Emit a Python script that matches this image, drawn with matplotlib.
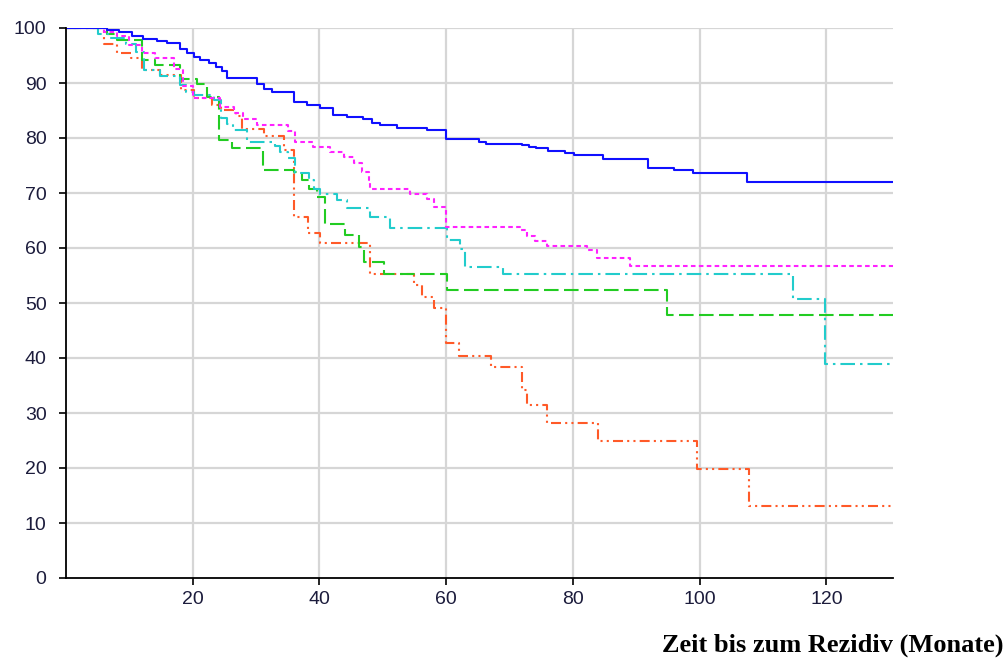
import numpy as np
import matplotlib
matplotlib.use("Agg")
from matplotlib import pyplot as plt

# time (months) / percent recurrence-free, step changes only
t_blue = [0, 6.5, 8.3, 10.4, 12.2, 14.4, 16, 18, 19.1, 20.2, 21.2, 22.5, 23.6, 24.6, 25.4,
          30.2, 31.2, 32.5, 35.9, 38, 40.1, 42.2, 44.3, 46.9, 48.3, 49.6, 52.2, 57, 60,
          65.1, 66.2, 72, 73, 74.1, 76.1, 78.8, 80.1, 84.8, 91.9, 95.9, 99, 107.5, 130.5]
s_blue = [100, 99.6, 99.2, 98.5, 98, 97.7, 97.2, 96.1, 95.4, 94.7, 94.2, 93.7, 93, 92.1, 91,
          89.9, 89, 88.4, 86.6, 86, 85.5, 84.2, 83.8, 83.4, 82.8, 82.4, 81.9, 81.4, 79.8,
          79.3, 79.0, 78.7, 78.4, 78.1, 77.7, 77.2, 76.9, 76.1, 74.5, 74.2, 73.6, 72.0, 72.0]

t_magenta = [0, 6, 8, 10, 12, 14, 17, 18.5, 20, 24.3, 26.5, 28, 30.2, 35.1, 36.2, 39, 41.7,
             43.8, 45.4, 46.7, 47.8, 48, 54.3, 57, 58, 60, 71.7, 72.7, 74, 75.9, 82.2, 83.8,
             89, 130.5]
s_magenta = [100, 99.3, 98.6, 97, 95.5, 94.5, 92.5, 89.5, 87.2, 85.6, 84.5, 83.4, 82.4, 81.2,
             79.3, 78.4, 77.5, 76.6, 75.4, 73.9, 72.4, 70.8, 69.9, 69.0, 67.5, 63.9, 63.3,
             62.2, 61.2, 60.4, 59.6, 58.2, 56.8, 56.8]

t_cyan = [0, 5, 7, 9.4, 11, 12.3, 14.9, 18, 19, 20.2, 23.3, 24.4, 25.4, 26.4, 28.6, 33, 33.8,
          35.1, 36.2, 38.3, 39.1, 40.1, 42.8, 44.4, 48, 51.2, 60.1, 62.2, 63, 68.9, 114.7,
          119.8, 130.5]
s_cyan = [100, 99, 98.1, 97.1, 95.7, 92.4, 91.2, 89.6, 88.4, 87.8, 86.9, 83.6, 82.5, 81.5,
          79.3, 78.5, 77.5, 76.3, 73.6, 72.4, 70.8, 69.9, 68.7, 67.2, 65.7, 63.6, 61.5, 59.9,
          56.6, 55.2, 50.7, 39.0, 39.0]

t_green = [0, 6.5, 8.1, 12, 14.1, 18, 20.7, 22.3, 24.1, 26.2, 31.1, 35.9, 37.2, 38.3, 39.6,
           40.9, 44.1, 46.2, 47.1, 50.2, 60.1, 94.9, 130.5]
s_green = [100, 99.0, 97.8, 94.2, 93.3, 90.7, 89.8, 87.5, 79.6, 78.1, 74.2, 73.9, 72.4, 70.8,
           69.3, 64.3, 62.4, 60.2, 57.5, 55.3, 52.4, 47.8, 47.8]

t_orange = [0, 6, 8.1, 10.2, 12, 14.9, 18.1, 20.2, 23.1, 24.4, 26.8, 27.8, 31.2, 34.4, 35.9,
            38.2, 40.1, 48, 54.9, 56.2, 58, 60, 62, 67, 72, 72.7, 75.9, 84, 99.6, 107.7, 130.5]
s_orange = [100, 97.1, 95.4, 94.5, 92.4, 91.5, 88.7, 87.2, 86.0, 85.1, 84.0, 81.6, 80.4, 77.8,
            65.6, 62.7, 61.0, 55.3, 53.3, 51.1, 49.1, 42.7, 40.4, 38.4, 34.1, 31.5, 28.1,
            24.9, 19.8, 13.1, 13.1]

x_ticks = [20, 40, 60, 80, 100, 120]
y_ticks = list(range(0, 101, 10))

fig = plt.figure(figsize=(10.07, 6.61), dpi=100)
ax = fig.add_axes([66 / 1007, 83 / 661, 827 / 1007, 550 / 661])

for v in y_ticks[1:]:
    ax.axhline(v, color="#d6d6d6", lw=1.6, zorder=0)
for v in x_ticks:
    ax.axvline(v, color="#d6d6d6", lw=1.6, zorder=0)

lw = 1.5
ax.plot(t_orange, s_orange, drawstyle="steps-post", color="#ff5a28", lw=lw,
        linestyle=(0, (4.8, 2, 1, 2, 1, 2)))
ax.plot(t_green, s_green, drawstyle="steps-post", color="#22cc22", lw=lw,
        linestyle=(0, (7, 2.6)))
ax.plot(t_cyan, s_cyan, drawstyle="steps-post", color="#22cccc", lw=lw,
        linestyle=(0, (7, 2.4, 1.2, 2.4)))
ax.plot(t_magenta, s_magenta, drawstyle="steps-post", color="#ff22ff", lw=lw,
        linestyle=(0, (2.2, 1.6)))
ax.plot(t_blue, s_blue, drawstyle="steps-post", color="#1010ff", lw=lw)

ax.set_xlim(0, 130.5)
ax.set_ylim(0, 100)
ax.set_xticks(x_ticks)
ax.set_yticks(y_ticks)
ax.spines["top"].set_visible(False)
ax.spines["right"].set_visible(False)
ax.spines["left"].set_linewidth(1.3)
ax.spines["bottom"].set_linewidth(1.3)
ax.tick_params(axis="both", length=5, width=1.2, labelsize=14, labelcolor="#1c1c3c")
ax.tick_params(axis="y", pad=9)
ax.tick_params(axis="x", pad=4)
for lab in ax.get_xticklabels() + ax.get_yticklabels():
    lab.set_family("Liberation Sans")

fig.text(1003 / 1007, 16 / 661, "Zeit bis zum Rezidiv (Monate)", ha="right", va="center",
         family="Liberation Serif", weight="bold", fontsize=19)

fig.savefig("out.png", dpi=100)
